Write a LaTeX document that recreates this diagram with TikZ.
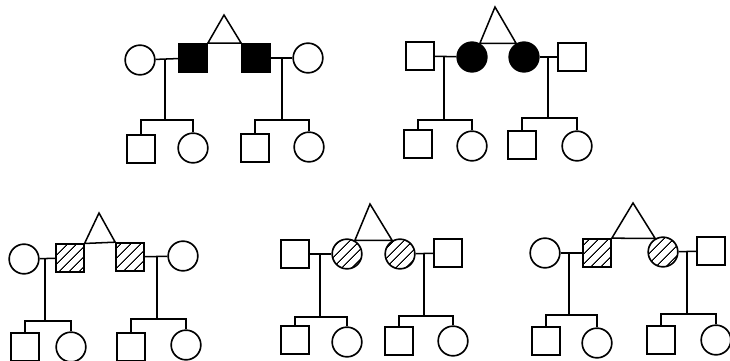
\documentclass[tikz,border=0pt]{standalone}
\usepackage{tikz}
\usetikzlibrary{patterns.meta}

\begin{document}
\begin{tikzpicture}[
x=0.3mm,y=-0.3mm,
line width=1.4pt,
male/.style={draw,minimum size=8.4mm,inner sep=0pt},
female/.style={draw,circle,minimum size=8.9mm,inner sep=0pt},
affected/.style={fill=black},
carrier/.style={pattern={Lines[angle=45,distance=6.5pt,line width=0.9pt]}},
link/.style={line width=1.3pt},
]
\useasboundingbox (0,0) rectangle (730,360);
% first family: affected twin brothers
\node[female] (p1sp1) at (140,60) {};
\node[male,affected] (p1tw1) at (193,58) {};
\node[male,affected] (p1tw2) at (256,58) {};
\node[female] (p1sp2) at (308,58) {};
\coordinate (p1top) at (224,15);
\coordinate (p1j1) at (165,120);
\coordinate (p1j2) at (282,120);
\node[male] (p1ch1) at (141,149) {};
\node[female] (p1ch2) at (193,148) {};
\node[male] (p1ch3) at (255,148) {};
\node[female] (p1ch4) at (309,147) {};
\draw[link] (p1tw1.north east) -- (p1top) -- (p1tw2.north west) -- cycle;
\draw[link] (p1sp1) -- (p1tw1);
\draw[link] (p1tw2) -- (p1sp2);
\draw[link] (p1j1 |- p1sp1) -- (p1j1);
\draw[link] (p1j2 |- p1sp2) -- (p1j2);
\draw[link] (p1ch1.north) |- (p1j1) -| (p1ch2.north);
\draw[link] (p1ch3.north) |- (p1j2) -| (p1ch4.north);
% second family: affected twin sisters
\node[male] (p2sp1) at (420,56) {};
\node[female,affected] (p2tw1) at (472,57) {};
\node[female,affected] (p2tw2) at (524,57) {};
\node[male] (p2sp2) at (572,57) {};
\coordinate (p2top) at (495,7);
\coordinate (p2j1) at (444,120);
\coordinate (p2j2) at (548,118);
\node[male] (p2ch1) at (418,144) {};
\node[female] (p2ch2) at (472,146) {};
\node[male] (p2ch3) at (522,145) {};
\node[female] (p2ch4) at (577,146) {};
\draw[link] (p2tw1.60) -- (p2top) -- (p2tw2.120) -- cycle;
\draw[link] (p2sp1) -- (p2tw1);
\draw[link] (p2tw2) -- (p2sp2);
\draw[link] (p2j1 |- p2tw1) -- (p2j1);
\draw[link] (p2j2 |- p2tw2) -- (p2j2);
\draw[link] (p2ch1.north) |- (p2j1) -| (p2ch2.north);
\draw[link] (p2ch3.north) |- (p2j2) -| (p2ch4.north);
% third family
\node[female] (p3sp1) at (24,259) {};
\node[male,carrier] (p3tw1) at (70,258) {};
\node[male,carrier] (p3tw2) at (130,257) {};
\node[female] (p3sp2) at (183,256) {};
\coordinate (p3top) at (99,213);
\coordinate (p3j1) at (45,321);
\coordinate (p3j2) at (157,319);
\node[male] (p3ch1) at (25,347) {};
\node[female] (p3ch2) at (71,347) {};
\node[male] (p3ch3) at (131,347) {};
\node[female] (p3ch4) at (186,345) {};
\draw[link] (p3tw1.north east) -- (p3top) -- (p3tw2.north west) -- cycle;
\draw[link] (p3sp1) -- (p3tw1);
\draw[link] (p3tw2) -- (p3sp2);
\draw[link] (p3j1 |- p3sp1) -- (p3j1);
\draw[link] (p3j2 |- p3sp2) -- (p3j2);
\draw[link] (p3ch1.north) |- (p3j1) -| (p3ch2.north);
\draw[link] (p3ch3.north) |- (p3j2) -| (p3ch4.north);
% fourth family
\node[male] (p4sp1) at (295,254) {};
\node[female,carrier] (p4tw1) at (347,254) {};
\node[female,carrier] (p4tw2) at (400,254) {};
\node[male] (p4sp2) at (448,253) {};
\coordinate (p4top) at (370,204);
\coordinate (p4j1) at (320,317);
\coordinate (p4j2) at (424,316);
\node[male] (p4ch1) at (295,340) {};
\node[female] (p4ch2) at (347,342) {};
\node[male] (p4ch3) at (399,341) {};
\node[female] (p4ch4) at (453,341) {};
\draw[link] (p4tw1.60) -- (p4top) -- (p4tw2.120) -- cycle;
\draw[link] (p4sp1) -- (p4tw1);
\draw[link] (p4tw2) -- (p4sp2);
\draw[link] (p4j1 |- p4tw1) -- (p4j1);
\draw[link] (p4j2 |- p4tw2) -- (p4j2);
\draw[link] (p4ch1.north) |- (p4j1) -| (p4ch2.north);
\draw[link] (p4ch3.north) |- (p4j2) -| (p4ch4.north);
% fifth family: opposite-sex twins
\node[female] (p5sp1) at (545,253) {};
\node[male,carrier] (p5tw1) at (597,253) {};
\node[female,carrier] (p5tw2) at (663,252) {};
\node[male] (p5sp2) at (711,251) {};
\coordinate (p5top) at (633,203);
\coordinate (p5j1) at (569,315);
\coordinate (p5j2) at (687,314);
\node[male] (p5ch1) at (546,341) {};
\node[female] (p5ch2) at (597,343) {};
\node[male] (p5ch3) at (661,340) {};
\node[female] (p5ch4) at (716,340) {};
\draw[link] (p5tw1.north east) -- (p5top) -- (p5tw2.120) -- cycle;
\draw[link] (p5sp1) -- (p5tw1);
\draw[link] (p5tw2) -- (p5sp2);
\draw[link] (p5j1 |- p5sp1) -- (p5j1);
\draw[link] (p5j2 |- p5tw2) -- (p5j2);
\draw[link] (p5ch1.north) |- (p5j1) -| (p5ch2.north);
\draw[link] (p5ch3.north) |- (p5j2) -| (p5ch4.north);
\end{tikzpicture}
\end{document}
